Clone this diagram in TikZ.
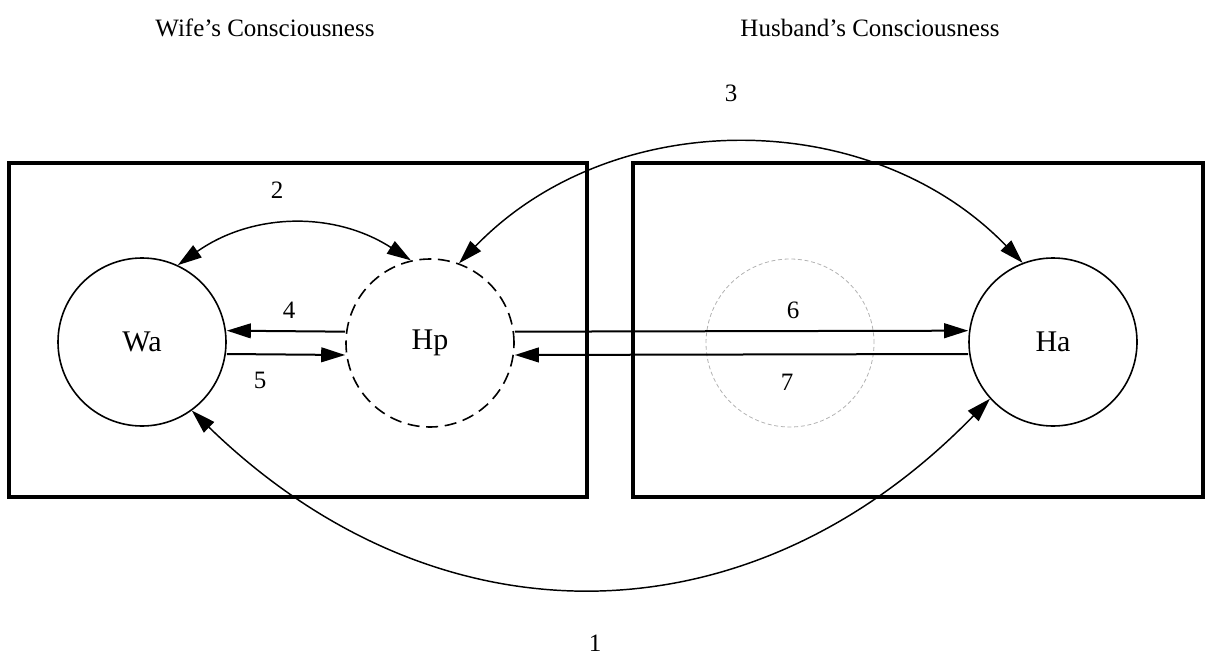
\documentclass[tikz,border=0pt]{standalone}
\usepackage{fontspec}
\setmainfont{Liberation Serif}
\usetikzlibrary{arrows.meta}
\begin{document}
\begin{tikzpicture}[x=0.75pt,y=-0.75pt,
  every node/.style={font=\fontsize{18.75}{22}\selectfont},
  frame/.style={draw, line width=2.3pt},
  person/.style={circle, draw, line width=1.2pt, minimum size=126pt, inner sep=0pt,
    font=\fontsize{22.5}{26}\selectfont},
  projected/.style={person, dash pattern=on 9pt off 5pt},
  ghost/.style={circle, draw=gray!60, line width=0.6pt, dash pattern=on 3pt off 2pt, minimum size=126pt, inner sep=0pt},
  conn/.style={line width=1.5pt, -{Triangle[length=18pt,width=11pt]}},
  arc/.style={line width=1.1pt, {Triangle[length=18pt,width=11pt]}-{Triangle[length=18pt,width=11pt]}},
  num/.style={inner sep=0pt}
]
\useasboundingbox (0,0) rectangle (1212,656);

% headings
\node (wh) at (265,28) {Wife’s Consciousness};
\node (hh) at (870,28) {Husband’s Consciousness};

% frames
\draw[frame] (9,163) rectangle (587,497);
\draw[frame] (633,163) rectangle (1203,497);

% circles
\node[ghost] (gc) at (790,343) {};
\node[person] (wa) at (142,342) {Wa};
\node[projected] (hp) at (430,343) {Hp};
\node[person] (ha) at (1053,342) {Ha};

% straight connectors
\draw[conn] ([yshift=8.5pt]hp.west) -- ([yshift=8.5pt]wa.east);
\draw[conn] ([yshift=-9pt]wa.east) -- ([yshift=-9pt]hp.west);
\draw[conn] ([yshift=8.5pt]hp.east) -- ([yshift=8.5pt]ha.west);
\draw[conn] ([yshift=-9pt]ha.west) -- ([yshift=-9pt]hp.east);

% curved connectors
\draw[arc] (wa.65) to[bend left=34] (hp.103);
\draw[arc] (hp.70) to[bend left=46] (ha.111);
\draw[arc] (wa.306) to[bend right=45, looseness=1.1] (ha.222);

% numbers
\node[num] (n1) at (595,643) {1};
\node[num] (n2) at (277,190) {2};
\node[num] (n3) at (731,93) {3};
\node[num] (n4) at (289,310) {4};
\node[num] (n5) at (260,380) {5};
\node[num] (n6) at (793,310) {6};
\node[num] (n7) at (787,382) {7};
\end{tikzpicture}
\end{document}
